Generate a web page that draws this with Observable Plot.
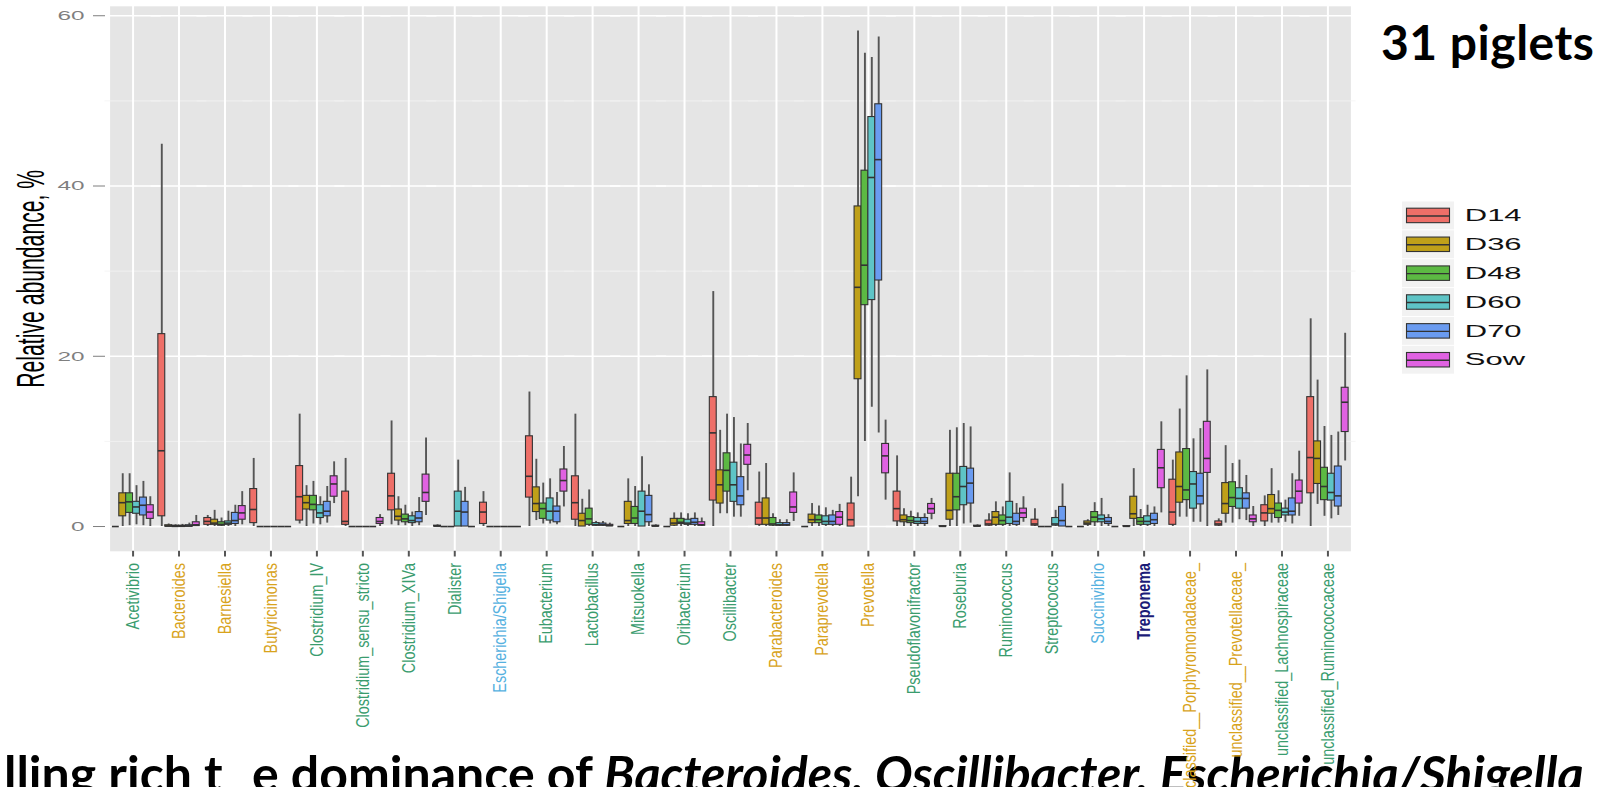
<!DOCTYPE html>
<html>
<head>
<meta charset="utf-8">
<script src="https://cdn.jsdelivr.net/npm/d3@7"></script>
<script src="https://cdn.jsdelivr.net/npm/@observablehq/plot@0.6"></script>
<style>
  html, body { margin: 0; padding: 0; background: #fff; width: 1608px; height: 787px; overflow: hidden; }
  body { position: relative; font-family: "Liberation Sans", Arial, sans-serif; }
  #chart, #legend, #notes { position: absolute; }
  #notes { left: 0; top: 0; pointer-events: none; z-index: 0; }
  #chart { left: 0; top: 0; z-index: 1; }
  #legend { left: 1401.7px; top: 201.3px; z-index: 2; }
</style>
</head>
<body>
<div id="notes"></div>
<div id="chart"></div>
<div id="legend"></div>
<script>
// Genera on the x axis (alphabetical, as in the abundance table)
const genera = [
  "Acetivibrio", "Bacteroides", "Barnesiella", "Butyricimonas", "Clostridium_IV",
  "Clostridium_sensu_stricto", "Clostridium_XIVa", "Dialister", "Escherichia/Shigella",
  "Eubacterium", "Lactobacillus", "Mitsuokella", "Oribacterium", "Oscillibacter",
  "Parabacteroides", "Paraprevotella", "Prevotella", "Pseudoflavonifractor", "Roseburia",
  "Ruminococcus", "Streptococcus", "Succinivibrio", "Treponema",
  "unclassified__Porphyromonadaceae_", "unclassified__Prevotellaceae_",
  "unclassified_Lachnospiraceae", "unclassified_Ruminococcaceae"
];

// Sampling groups (piglet age in days, and the sows)
const groups = ["D14", "D36", "D48", "D60", "D70", "Sow"];
const groupColors = ["#EE6F68", "#BFA019", "#5CB943", "#5EC4C6", "#6A9BF0", "#E062E2"];

// Phylum of each genus, used to colour the genus labels
const firmicutes = ["Acetivibrio", "Clostridium_IV", "Clostridium_sensu_stricto", "Clostridium_XIVa",
  "Dialister", "Eubacterium", "Lactobacillus", "Mitsuokella", "Oribacterium", "Oscillibacter",
  "Pseudoflavonifractor", "Roseburia", "Ruminococcus", "Streptococcus",
  "unclassified_Lachnospiraceae", "unclassified_Ruminococcaceae"];
const bacteroidetes = ["Bacteroides", "Barnesiella", "Butyricimonas", "Parabacteroides",
  "Paraprevotella", "Prevotella", "unclassified__Porphyromonadaceae_", "unclassified__Prevotellaceae_"];
const proteobacteria = ["Escherichia/Shigella", "Succinivibrio"];
const spirochaetes = ["Treponema"];

// Box statistics (relative abundance, %), one row per genus, columns D14 D36 D48 D60 D70 Sow
const whiskerLow = [
  [0, 0, 0.1, 0.2, 0.1, 0],
  [0, 0, 0, 0, 0, 0],
  [0, 0, 0, 0, 0, 0.2],
  [0, 0, 0, 0, 0, 0],
  [0.3, 0, 0.3, 0.2, 0.4, 2.7],
  [0, 0, 0, 0, 0, 0],
  [0.2, 0.1, 0.1, 0, 0.1, 1.3],
  [0, 0, 0, 0, 0, 0],
  [0, 0, 0, 0, 0, 0],
  [0, 0.7, 0.3, 0.3, 0.2, 2.3],
  [0, 0, 0, 0, 0, 0],
  [0, 0, 0, 0, 0, 0],
  [0, 0, 0, 0, 0, 0],
  [0, 1.5, 1.5, 1.1, 1.1, 4.2],
  [0, 0, 0, 0, 0, 0.6],
  [0, 0, 0, 0, 0, 0],
  [0, 3.5, 10.0, 14.0, 11.0, 3.1],
  [0, 0, 0, 0, 0, 0.8],
  [0, 0, 0, 0.3, 0.4, 0],
  [0, 0, 0, 0, 0, 0.5],
  [0, 0, 0, 0, 0, 0],
  [0, 0, 0, 0, 0, 0],
  [0, 0, 0, 0, 0, 1.6],
  [0, 1.1, 1.1, 0.5, 0.5, 0],
  [0, 0.4, 0.4, 0.8, 0.7, 0],
  [0, 0.4, 0.4, 0.5, 0.3, 1.2],
  [0, 2.6, 1.2, 0.9, 1.3, 7.7]
];
const q1 = [
  [0, 1.2, 1.6, 1.5, 1.3, 0.9],
  [1.2, 0, 0, 0, 0, 0.05],
  [0.2, 0.2, 0.1, 0.2, 0.3, 0.8],
  [0.4, 0, 0, 0, 0, 0],
  [0.7, 2.0, 1.9, 1.0, 1.2, 3.5],
  [0.2, 0, 0, 0, 0, 0.3],
  [1.9, 0.7, 0.5, 0.4, 0.5, 2.9],
  [0, 0, 0, 0, 0, 0],
  [0.3, 0, 0, 0, 0, 0],
  [3.4, 1.7, 0.9, 0.7, 0.5, 4.1],
  [0.8, 0, 0.2, 0.1, 0.1, 0.05],
  [0, 0.3, 0.3, 0, 0.5, 0],
  [0, 0.1, 0.3, 0.2, 0.2, 0.1],
  [3.05, 2.7, 4.1, 2.9, 2.5, 7.25],
  [0.2, 0.2, 0.1, 0.1, 0.1, 1.6],
  [0, 0.4, 0.4, 0.2, 0.2, 0.2],
  [0, 17.3, 26.0, 26.6, 28.9, 6.25],
  [0.6, 0.5, 0.4, 0.3, 0.3, 1.5],
  [0, 0.8, 1.9, 2.5, 2.7, 0],
  [0.1, 0.2, 0.2, 0.3, 0.2, 1.0],
  [0.1, 0, 0, 0.1, 0, 0],
  [0, 0.2, 0.5, 0.5, 0.3, 0],
  [0, 0.9, 0.2, 0.2, 0.3, 4.5],
  [0.2, 2.8, 3.1, 2.1, 2.6, 6.3],
  [0.1, 1.5, 2.3, 2.1, 2.1, 0.5],
  [0.6, 1.5, 1.0, 1.3, 1.3, 2.7],
  [3.9, 5.0, 3.1, 3.05, 2.35, 11.1]
];
const median = [
  [0, 2.8, 2.9, 2.3, 2.5, 1.7],
  [8.9, 0.05, 0.02, 0.03, 0.05, 0.2],
  [0.6, 0.4, 0.25, 0.4, 0.7, 1.6],
  [2.0, 0, 0, 0, 0, 0],
  [3.5, 2.8, 2.6, 1.6, 1.8, 5.0],
  [0.6, 0, 0, 0, 0, 0.6],
  [3.6, 1.2, 0.9, 0.7, 1.0, 4.0],
  [0.05, 0, 0, 1.8, 1.7, 0],
  [1.7, 0, 0, 0, 0, 0],
  [5.9, 2.7, 2.1, 1.8, 1.8, 5.4],
  [2.8, 0.7, 0.9, 0.2, 0.2, 0.1],
  [0, 0.7, 1.0, 1.8, 1.4, 0.05],
  [0, 0.4, 0.5, 0.4, 0.5, 0.2],
  [11.0, 4.9, 6.6, 4.9, 3.6, 8.4],
  [1.0, 1.0, 0.3, 0.2, 0.2, 2.3],
  [0, 0.8, 0.8, 0.6, 0.6, 1.1],
  [0.8, 28.1, 30.7, 41.0, 43.1, 8.3],
  [2.1, 0.8, 0.7, 0.6, 0.6, 2.1],
  [0.02, 1.9, 3.5, 4.7, 5.1, 0.05],
  [0.3, 1.1, 0.7, 1.1, 0.6, 1.6],
  [0.3, 0, 0, 0.3, 0.7, 0],
  [0, 0.4, 1.1, 0.9, 0.6, 0],
  [0.02, 1.5, 0.6, 0.6, 0.8, 6.9],
  [1.7, 4.7, 4.3, 5.0, 3.6, 8.0],
  [0.3, 2.7, 3.4, 3.3, 3.3, 0.9],
  [1.6, 2.1, 1.9, 1.7, 1.8, 4.15],
  [8.1, 8.0, 4.7, 4.0, 3.6, 14.6]
];
const q3 = [
  [0, 3.9, 3.9, 2.9, 3.4, 2.5],
  [22.6, 0.15, 0.1, 0.1, 0.15, 0.5],
  [1.0, 0.8, 0.5, 0.6, 1.6, 2.4],
  [4.4, 0, 0, 0, 0, 0],
  [7.1, 3.6, 3.6, 2.5, 2.9, 5.9],
  [4.1, 0, 0, 0, 0, 1.0],
  [6.2, 2.0, 1.4, 1.2, 1.7, 6.1],
  [0.1, 0, 0, 4.1, 2.9, 0],
  [2.8, 0, 0, 0, 0, 0],
  [10.6, 4.6, 2.7, 3.3, 2.35, 6.7],
  [5.9, 1.5, 2.1, 0.4, 0.35, 0.2],
  [0, 2.9, 2.3, 4.1, 3.6, 0.1],
  [0, 0.9, 0.9, 0.8, 0.9, 0.5],
  [15.2, 6.6, 8.6, 7.5, 5.8, 9.6],
  [2.8, 3.3, 1.0, 0.4, 0.4, 4.0],
  [0, 1.4, 1.3, 1.2, 1.3, 1.7],
  [2.7, 37.6, 41.8, 48.1, 49.6, 9.7],
  [4.1, 1.3, 1.1, 1.0, 1.0, 2.65],
  [0.05, 6.2, 6.2, 7.0, 6.8, 0.1],
  [0.7, 1.7, 1.3, 2.9, 1.5, 2.1],
  [0.8, 0, 0, 1.0, 2.3, 0],
  [0, 0.6, 1.7, 1.3, 1.0, 0],
  [0.05, 3.5, 1.0, 1.2, 1.5, 9.0],
  [5.5, 8.7, 9.1, 6.4, 6.2, 12.3],
  [0.6, 5.1, 5.2, 4.5, 3.9, 1.3],
  [2.5, 3.7, 2.7, 2.1, 3.3, 5.4],
  [15.2, 10.0, 6.9, 6.2, 7.05, 16.3]
];
const whiskerHigh = [
  [0, 6.2, 6.2, 4.8, 5.3, 3.5],
  [44.9, 0.3, 0.2, 0.25, 0.4, 1.3],
  [1.3, 1.9, 1.0, 1.8, 2.5, 4.1],
  [8.0, 0, 0, 0, 0, 0],
  [13.2, 4.8, 5.3, 3.5, 4.7, 7.6],
  [8.0, 0, 0, 0, 0, 1.4],
  [12.4, 3.5, 2.5, 1.7, 3.4, 10.4],
  [0.2, 0, 0, 7.8, 4.6, 0],
  [4.1, 0, 0, 0, 0, 0],
  [15.8, 7.9, 5.1, 5.6, 4.0, 9.4],
  [13.2, 3.2, 4.3, 0.6, 0.6, 0.4],
  [0, 5.6, 4.7, 8.2, 4.9, 0.2],
  [0, 1.6, 1.6, 1.5, 1.6, 1.0],
  [27.6, 11.3, 13.2, 12.8, 9.7, 12.1],
  [6.4, 7.4, 1.5, 0.8, 0.8, 6.3],
  [0, 2.7, 2.4, 2.2, 1.9, 2.6],
  [5.8, 58.2, 55.6, 55.1, 57.5, 12.5],
  [8.3, 2.1, 1.8, 1.6, 1.5, 3.3],
  [0.1, 11.3, 11.6, 12.1, 11.7, 0.2],
  [1.5, 2.9, 2.3, 6.3, 2.7, 3.5],
  [2.1, 0, 0, 1.9, 5.0, 0],
  [0, 0.8, 2.8, 3.3, 1.4, 0],
  [0.1, 6.8, 2.0, 2.5, 2.3, 12.3],
  [7.8, 13.8, 17.7, 10.3, 11.5, 18.4],
  [0.9, 9.5, 7.4, 7.8, 6.0, 2.35],
  [3.6, 6.8, 4.2, 3.1, 6.2, 8.85],
  [24.4, 17.2, 11.75, 10.7, 11.1, 22.7]
];

const majorTicks = [0, 20, 40, 60];
const minorTicks = [10, 30, 50];

// ---- tidy table for the marks ----
const rows = [];
genera.forEach((genus, i) => groups.forEach((group, j) => rows.push({
  genus, group,
  lo: whiskerLow[i][j], q1: q1[i][j], med: median[i][j], q3: q3[i][j], hi: whiskerHigh[i][j]
})));

const phylumColor = new Map([
  ...firmicutes.map(g => [g, "#3A9C6E"]),
  ...bacteroidetes.map(g => [g, "#D8A31C"]),
  ...proteobacteria.map(g => [g, "#56B1DF"]),
  ...spirochaetes.map(g => [g, "#1B1B78"])
]);

// ---- layout ----
const W = 1608, H = 787;
const mL = 105, mR = 253, mT = 5.8, mB = 236.2;
const expand = 0.6;                       // discrete-axis expansion, in category steps
const fxPadOuter = expand - 0.5;          // extra outer padding of the genus bands
const step = (W - mL - mR) / (genera.length + 2 * fxPadOuter);
const outerPx = step * fxPadOuter;
const dodgeWidth = 0.9;                   // fraction of a genus band filled by its six boxes
const xPadOuter = (groups.length / dodgeWidth - groups.length) / 2;
const ymax = d3.max(whiskerHigh.flat());
// grid lines drawn in every genus band, stretched over the outer padding
const gridInset = -outerPx - 0.5;

const chart = Plot.plot({
  width: W, height: H,
  marginLeft: mL, marginRight: mR, marginTop: mT, marginBottom: mB,
  style: {fontFamily: '"Liberation Sans", Arial, sans-serif', background: "transparent", overflow: "visible"},
  fx: {domain: genera, paddingInner: 0, paddingOuter: fxPadOuter, round: false, axis: null, label: null},
  x: {domain: groups, paddingInner: 0, paddingOuter: xPadOuter, round: false, axis: null, label: null},
  y: {domain: [-0.05 * ymax, 1.05 * ymax], axis: null, label: null},
  color: {domain: groups, range: groupColors},
  marks: [
    Plot.frame({facet: "super", fill: "#E5E5E5"}),
    Plot.ruleY(minorTicks, {stroke: "#F3F3F3", strokeWidth: 0.8, insetLeft: gridInset, insetRight: gridInset}),
    Plot.ruleY(majorTicks, {stroke: "#FFFFFF", strokeWidth: 1.4, insetLeft: gridInset, insetRight: gridInset}),
    Plot.gridFx({stroke: "#FFFFFF", strokeOpacity: 1, strokeWidth: 2}),
    // whiskers
    Plot.ruleX(rows, {fx: "genus", x: "group", y1: "lo", y2: "hi", stroke: "#555555", strokeWidth: 1.9}),
    // interquartile boxes
    Plot.barY(rows, {fx: "genus", x: "group", y1: "q1", y2: "q3", fill: "group", stroke: "#333333", strokeWidth: 1.1, inset: 0}),
    // medians
    Plot.tickY(rows, {fx: "genus", x: "group", y: "med", stroke: "#333333", strokeWidth: 1.6}),
    Plot.axisY({ticks: majorTicks, tickSize: 12, tickPadding: 9, dx: -outerPx, fontSize: 13.5,
      color: "#7F7F7F", strokeWidth: 1, label: null, tickFormat: d3.format("d")}),
    Plot.axisFx({anchor: "bottom", tickRotate: -90, tickSize: 5.7, tickPadding: 6, fontSize: 18,
      stroke: "#555555", strokeWidth: 2, label: null}),
    Plot.text(["Relative abundance, %"], {facet: "super", frameAnchor: "left", textAnchor: "middle",
      dx: -78, rotate: -90, fontSize: 38, fill: "#000000"})
  ]
});
document.getElementById("chart").append(chart);

// Text in this figure is stretched horizontally; emulate with textLength.
function stretch(sel, factor) {
  sel.each(function () {
    const len = this.getComputedTextLength();
    this.setAttribute("textLength", (len * factor).toFixed(2));
    this.setAttribute("lengthAdjust", "spacingAndGlyphs");
  });
}
const svg = d3.select(chart);
svg.selectAll('g[aria-label="fx-axis tick label"] text').each(function () {
  const name = this.textContent;
  this.setAttribute("fill", phylumColor.get(name) || "#333");
  if (spirochaetes.includes(name)) this.setAttribute("font-weight", "bold");
});
stretch(svg.selectAll('g[aria-label="fx-axis tick label"] text'), 0.8);
stretch(svg.selectAll('g[aria-label="y-axis tick label"] text'), 1.8);
svg.selectAll("text").filter(function () { return this.textContent === "Relative abundance, %"; })
  .attr("textLength", 218).attr("lengthAdjust", "spacingAndGlyphs");

// ---- legend (box-plot keys) ----
const keyW = 52, rowH = 28.86;
const legend = Plot.plot({
  width: 180, height: rowH * groups.length, margin: 0,
  style: {fontFamily: '"Liberation Sans", Arial, sans-serif', background: "transparent", overflow: "visible"},
  x: {domain: [0, 180], range: [0, 180], axis: null},
  y: {domain: groups, paddingInner: 0, paddingOuter: 0, round: false, axis: null},
  color: {domain: groups, range: groupColors},
  marks: [
    Plot.barX(groups, {y: d => d, x1: 0, x2: keyW, fill: "#F2F2F2", insetTop: 0.5, insetBottom: 0.5}),
    Plot.ruleX(groups, {y: d => d, x: keyW / 2, stroke: "#555555", strokeWidth: 1.8, insetTop: 1.5, insetBottom: 1.5}),
    Plot.barX(groups, {y: d => d, x1: 4.5, x2: keyW - 4.5, fill: d => d, stroke: "#333333", strokeWidth: 1.1, insetTop: 7.2, insetBottom: 7.2}),
    Plot.ruleY(groups, {y: d => d, x1: 4.5, x2: keyW - 4.5, stroke: "#333333", strokeWidth: 1.4}),
    Plot.text(groups, {y: d => d, x: 62.3, text: d => d, textAnchor: "start", fontSize: 16.3, fill: "#111111"})
  ]
});
document.getElementById("legend").append(legend);
stretch(d3.select(legend).selectAll("text"), 1.9);

// ---- slide annotations ----
const notes = d3.select("#notes").append("svg").attr("width", W).attr("height", H)
  .style("font-family", "Lato, 'Open Sans', sans-serif").style("font-weight", 700);
notes.append("text").attr("x", 1381).attr("y", 60).attr("font-size", 48).attr("fill", "#000")
  .attr("letter-spacing", 0.5).text("31 piglets");
notes.append("text").attr("x", 4).attr("y", 792).attr("font-size", 50).attr("fill", "#000")
  .text("lling rich t");
const cap = notes.append("text").attr("x", 252).attr("y", 792).attr("font-size", 50).attr("fill", "#000");
cap.append("tspan").text("e dominance of ");
cap.append("tspan").attr("font-style", "italic").text("Bacteroides, Oscillibacter, Escherichia/Shigella");
</script>
</body>
</html>
